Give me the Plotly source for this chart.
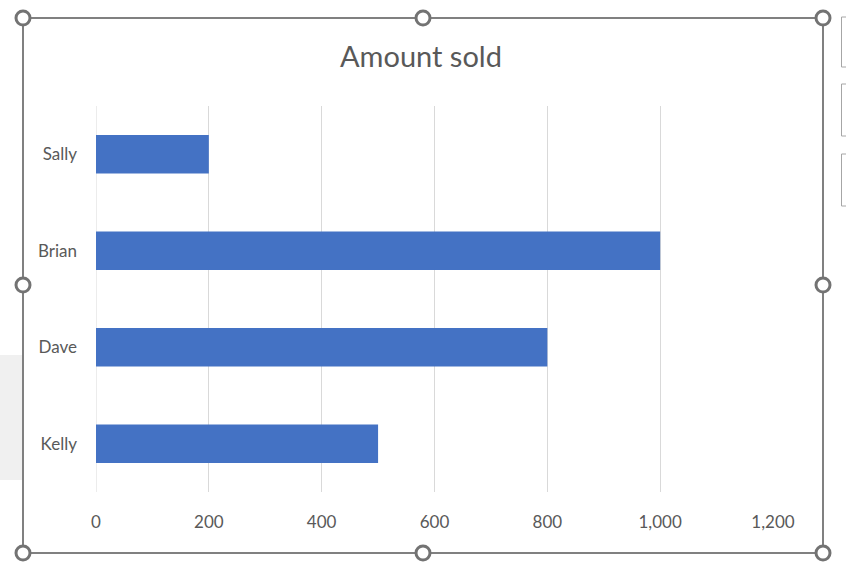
import plotly.graph_objects as go

names = ["Kelly", "Dave", "Brian", "Sally"]
amounts = [500, 800, 1000, 200]
tick_vals = [0, 200, 400, 600, 800, 1000, 1200]
tick_text = ["0", "200", "400", "600", "800", "1,000", "1,200"]

W, H = 846, 570
L, R, T, B = 96, 73, 106, 78
PW, PH = W - L - R, H - T - B


def px(x):
    return (x - L) / PW


def py(y):
    return (H - B - y) / PH


fig = go.Figure(go.Bar(
    y=names, x=amounts, orientation="h",
    marker=dict(color="#4472C4", line=dict(width=0)),
    width=0.4,
))

shapes = []
# grey area on left
shapes.append(dict(type="rect", xref="paper", yref="paper",
                   x0=px(-5), x1=px(22), y0=py(355), y1=py(480),
                   fillcolor="#f0f0f0", line=dict(width=0), layer="below"))
# zero gridline
shapes.append(dict(type="line", xref="x", yref="paper", x0=0, x1=0, y0=0, y1=1,
                   line=dict(color="#d9d9d9", width=1), layer="below"))
# right side button boxes
for (a, b) in [(17, 67), (84, 136), (154, 206)]:
    shapes.append(dict(type="rect", xref="paper", yref="paper",
                       x0=px(841.5), x1=px(855), y0=py(a), y1=py(b),
                       fillcolor="white", line=dict(color="#a6a6a6", width=1)))
# frame
shapes.append(dict(type="rect", xref="paper", yref="paper",
                   x0=px(23), x1=px(823), y0=py(18), y1=py(553),
                   line=dict(color="#808080", width=2)))
# handles
r = 7
for (cx, cy) in [(23, 18), (423, 18), (823, 18), (23, 285), (823, 285),
                 (23, 553), (423, 553), (823, 553)]:
    shapes.append(dict(type="circle", xref="paper", yref="paper",
                       x0=px(cx - r), x1=px(cx + r), y0=py(cy - r), y1=py(cy + r),
                       fillcolor="white", line=dict(color="#737373", width=3)))

fig.update_layout(
    width=W, height=H,
    margin=dict(l=L, r=R, t=T, b=B),
    paper_bgcolor="white", plot_bgcolor="white",
    showlegend=False,
    title=dict(text="Amount sold", x=421 / W, xanchor="center",
               y=1 - 57 / H, yanchor="middle", yref="container",
               font=dict(family="Lato", size=29, color="#595959")),
    xaxis=dict(range=[0, 1200], tickvals=tick_vals, ticktext=tick_text,
               showgrid=True, gridcolor="#d9d9d9", gridwidth=1,
               zeroline=False, showline=False, ticks="",
               ticklabelstandoff=18,
               tickfont=dict(family="Lato", size=17, color="#595959"),
               fixedrange=True),
    yaxis=dict(categoryorder="array", categoryarray=names,
               showgrid=False, zeroline=False, showline=False, ticks="",
               ticklabelstandoff=18,
               tickfont=dict(family="Lato", size=17, color="#595959"),
               fixedrange=True),
    shapes=shapes,
    bargap=0.6,
)

fig.write_html("out.html", config={"displayModeBar": False})
